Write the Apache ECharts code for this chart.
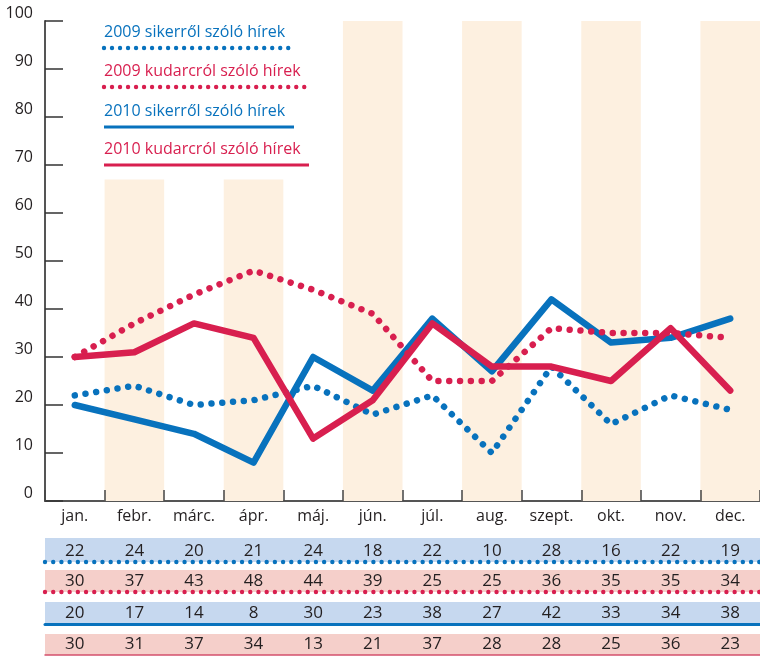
<!DOCTYPE html>
<html>
<head>
<meta charset="utf-8">
<title>Hírek 2009-2010</title>
<script src="https://cdn.jsdelivr.net/npm/echarts@6/dist/echarts.min.js"></script>
<style>
  html, body { margin: 0; padding: 0; background: #fff; }
  #chart { width: 760px; height: 656px; }
</style>
</head>
<body>
<div id="chart"></div>
<script>
// adatok
const months = ['jan.', 'febr.', 'márc.', 'ápr.', 'máj.', 'jún.', 'júl.', 'aug.', 'szept.', 'okt.', 'nov.', 'dec.']
const siker2009 = [22, 24, 20, 21, 24, 18, 22, 10, 28, 16, 22, 19]
const kudarc2009 = [30, 37, 43, 48, 44, 39, 25, 25, 36, 35, 35, 34]
const siker2010 = [20, 17, 14, 8, 30, 23, 38, 27, 42, 33, 34, 38]
const kudarc2010 = [30, 31, 37, 34, 13, 21, 37, 28, 28, 25, 36, 23]
const bandTops = [null, 67, null, 67, null, 100, null, 100, null, 100, null, 100]
const seriesNames = ['2009 sikerről szóló hírek', '2009 kudarcról szóló hírek', '2010 sikerről szóló hírek', '2010 kudarcról szóló hírek']

const BLUE = '#0872bd'
const RED = '#d81f4f'
const TXT = '#231f20'
const FONT = 'Open Sans'

const chart = echarts.init(document.getElementById('chart'))

// táblázat sorai: külön grid mindegyiknek
const rows = [
  { data: siker2009, top: 538, height: 24, bg: '#c6d8ef', line: { color: BLUE, width: 4.4, type: [0.01, 8.2], cap: 'round' } },
  { data: kudarc2009, top: 570, height: 22, bg: '#f5cfca', line: { color: RED, width: 4.4, type: [0.01, 8.2], cap: 'round' } },
  { data: siker2010, top: 602, height: 22, bg: '#c6d8ef', line: { color: BLUE, width: 3 } },
  { data: kudarc2010, top: 634, height: 21, bg: '#f5cfca', line: { color: '#d4506c', width: 1.5 } }
]

const grids = [{ left: 45, right: 0, top: 21, height: 480 }]
const xAxes = [{
  type: 'category',
  data: months,
  boundaryGap: true,
  axisLine: { lineStyle: { color: '#555', width: 2 } },
  axisTick: { show: true, inside: true, length: 11, interval: 0, lineStyle: { color: '#444', width: 1.5 } },
  axisLabel: { color: TXT, fontFamily: FONT, fontSize: 16, margin: 7, interval: 0 },
  splitLine: { show: false }
}]
const yAxes = [{
  type: 'value',
  min: 0,
  max: 100,
  interval: 10,
  axisLine: { show: true, lineStyle: { color: '#555', width: 2 } },
  axisTick: { show: true, inside: true, length: 18, lineStyle: { color: '#333', width: 1.5 } },
  axisLabel: { color: TXT, fontFamily: FONT, fontSize: 16, margin: 12, verticalAlign: 'bottom' },
  splitLine: { show: false }
}]

rows.forEach(function (r, i) {
  grids.push({ left: 45, right: 0, top: r.top, height: r.height, show: true, backgroundColor: r.bg, borderWidth: 0 })
  xAxes.push({
    type: 'category',
    gridIndex: i + 1,
    data: r.data.map(String),
    boundaryGap: true,
    axisLine: { lineStyle: r.line },
    axisTick: { show: false },
    axisLabel: { inside: true, margin: 2, color: TXT, fontFamily: FONT, fontSize: 17, interval: 0 }
  })
  yAxes.push({ type: 'value', gridIndex: i + 1, show: false })
})

const lineBase = { type: 'line', symbol: 'none', silent: true, animation: false }
const legendFont = '16px "Open Sans"'

const option = {
  animation: false,
  textStyle: { fontFamily: FONT },
  grid: grids,
  xAxis: xAxes,
  yAxis: yAxes,
  series: [
    {
      type: 'bar',
      data: bandTops,
      barWidth: '100%',
      silent: true,
      itemStyle: { color: '#fdf0e0' },
      z: 0
    },
    Object.assign({}, lineBase, {
      name: seriesNames[0], data: siker2009, z: 2,
      lineStyle: { color: BLUE, width: 6.5, type: [0.01, 10.8], cap: 'round', join: 'round' }
    }),
    Object.assign({}, lineBase, {
      name: seriesNames[2], data: siker2010, z: 3,
      lineStyle: { color: BLUE, width: 6.5, cap: 'round', join: 'round' }
    }),
    Object.assign({}, lineBase, {
      name: seriesNames[3], data: kudarc2010, z: 4,
      lineStyle: { color: RED, width: 6.5, cap: 'round', join: 'round' }
    }),
    Object.assign({}, lineBase, {
      name: seriesNames[1], data: kudarc2009, z: 5,
      lineStyle: { color: RED, width: 6.5, type: [0.01, 10.8], cap: 'round', join: 'round' }
    })
  ],
  // jelmagyarázat: szöveg fölül, vonalminta alatta
  graphic: [
    { type: 'text', left: 104, top: 24, style: { text: seriesNames[0], fill: BLUE, font: legendFont } },
    { type: 'line', shape: { x1: 104, y1: 48, x2: 289, y2: 48 }, style: { stroke: BLUE, lineWidth: 4.4, lineDash: [0.01, 8], lineCap: 'round' } },
    { type: 'text', left: 104, top: 63, style: { text: seriesNames[1], fill: RED, font: legendFont } },
    { type: 'line', shape: { x1: 104, y1: 87, x2: 306, y2: 87 }, style: { stroke: RED, lineWidth: 4.4, lineDash: [0.01, 8], lineCap: 'round' } },
    { type: 'text', left: 104, top: 103, style: { text: seriesNames[2], fill: BLUE, font: legendFont } },
    { type: 'line', shape: { x1: 104, y1: 127, x2: 294, y2: 127 }, style: { stroke: BLUE, lineWidth: 3 } },
    { type: 'text', left: 104, top: 141, style: { text: seriesNames[3], fill: RED, font: legendFont } },
    { type: 'line', shape: { x1: 104, y1: 165, x2: 309, y2: 165 }, style: { stroke: RED, lineWidth: 3 } }
  ]
}

chart.setOption(option)
</script>
</body>
</html>
